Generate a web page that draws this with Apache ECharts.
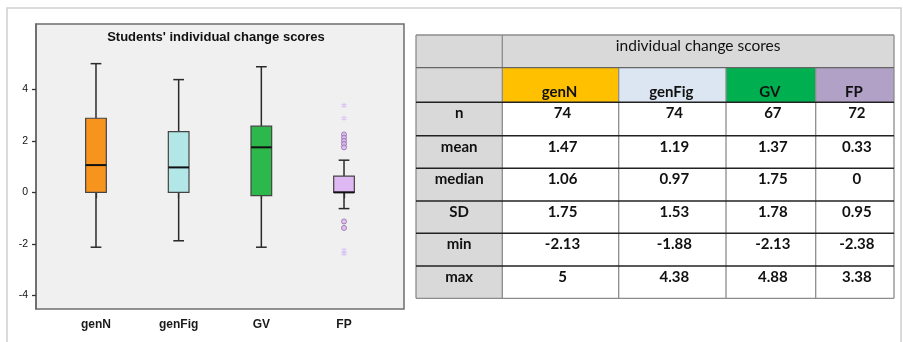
<!DOCTYPE html>
<html>
<head>
<meta charset="utf-8">
<script src="https://cdn.jsdelivr.net/npm/echarts@6/dist/echarts.min.js"></script>
<style>
  html, body { margin: 0; padding: 0; background: #ffffff; }
  #chart { width: 903px; height: 342px; }
</style>
</head>
<body>
<div id="chart"></div>
<script>
// ---- box plot data ----
const categories  = ['genN', 'genFig', 'GV', 'FP'];
const whiskerLow  = [-2.13, -1.88, -2.13, -0.63];
const quartile1   = [0, 0, -0.13, 0];
const medians     = [1.06, 0.97, 1.75, 0];
const quartile3   = [2.88, 2.36, 2.57, 0.63];
const whiskerHigh = [5, 4.38, 4.88, 1.25];
const boxColors   = ['#F7941E', '#B3E6E6', '#2DB84B', '#DDB8F2'];
// [category index, value]
const outliers = [[3, 2.25], [3, 2.13], [3, 2.0], [3, 1.88], [3, 1.75], [3, -1.13], [3, -1.38]];
const extremes = [[3, 3.38], [3, 2.88], [3, -2.25], [3, -2.38]];
const yTicks = [-4, -2, 0, 2, 4];
const plotTitle = "Students' individual change scores";

// ---- summary table data ----
const tableTitle = 'individual change scores';
const statNames  = ['n', 'mean', 'median', 'SD', 'min', 'max'];
const statN      = [74, 74, 67, 72];
const statMean   = [1.47, 1.19, 1.37, 0.33];
const statMedian = [1.06, 0.97, 1.75, 0];
const statSD     = [1.75, 1.53, 1.78, 0.95];
const statMin    = [-2.13, -1.88, -2.13, -2.38];
const statMax    = [5, 4.38, 4.88, 3.38];
const headerColors = ['#FFC000', '#DCE6F2', '#00B050', '#B2A1C7'];

const statRows = [statN, statMean, statMedian, statSD, statMin, statMax];

const Y_MIN = -4.53, Y_MAX = 6.54;

// ---- table layout ----
const colX = [416, 502.3, 618.7, 726, 815.7, 894];
const rowY = [35, 67.7, 102.3, 135.7, 168.3, 201, 233.3, 266, 298.3];
const tableGraphics = [];
const GRAY = '#D9D9D9';
const tfont = '"Lato", "Open Sans", sans-serif';

function cell(x0, y0, x1, y1, fill) {
  tableGraphics.push({ type: 'rect', z: 1, shape: { x: x0, y: y0, width: x1 - x0, height: y1 - y0 }, style: { fill: fill } });
}
function txt(x, y, s, bold, size) {
  tableGraphics.push({ type: 'text', z: 5, style: { x: x, y: y, text: String(s), fill: '#111',
    font: (bold ? 'bold ' : '') + (size || 15) + 'px ' + tfont, align: 'center', verticalAlign: 'middle' } });
}
function hline(y, x0, x1, color, w) {
  tableGraphics.push({ type: 'line', z: 4, shape: { x1: x0, y1: y, x2: x1, y2: y }, style: { stroke: color, lineWidth: w } });
}
function vline(x, y0, y1, color, w) {
  tableGraphics.push({ type: 'line', z: 3, shape: { x1: x, y1: y0, x2: x, y2: y1 }, style: { stroke: color, lineWidth: w } });
}

// backgrounds
cell(colX[0], rowY[0], colX[1], rowY[rowY.length - 1], GRAY);
cell(colX[1], rowY[0], colX[5], rowY[1], GRAY);
for (let c = 0; c < 4; c++) {
  cell(colX[c + 1], rowY[1], colX[c + 2], rowY[2], headerColors[c]);
  cell(colX[c + 1], rowY[2], colX[c + 2], rowY[rowY.length - 1], '#FFFFFF');
}
// grid lines
for (let r = 0; r < rowY.length; r++) {
  const dark = r >= 2 && r < rowY.length - 1;
  hline(rowY[r], colX[0], colX[5], dark ? '#222' : (r === 1 ? '#666' : '#8c8c8c'), dark ? 1.6 : 1.3);
}
vline(colX[0], rowY[0], rowY[rowY.length - 1], '#8c8c8c', 1.3);
vline(colX[1], rowY[0], rowY[rowY.length - 1], '#8c8c8c', 1.3);
for (let c = 2; c < 5; c++) vline(colX[c], rowY[1], rowY[rowY.length - 1], '#8c8c8c', 1.3);
vline(colX[5], rowY[0], rowY[rowY.length - 1], '#8c8c8c', 1.3);
// texts
txt((colX[1] + colX[5]) / 2, rowY[0] + 11, tableTitle, false, 15.5);
for (let c = 0; c < 4; c++) {
  txt((colX[c + 1] + colX[c + 2]) / 2 - 1, rowY[2] - 10.5, categories[c], true);
}
for (let r = 0; r < statNames.length; r++) {
  const top = rowY[r + 2];
  txt((colX[0] + colX[1]) / 2, top + 11, statNames[r], true);
  for (let c = 0; c < 4; c++) {
    txt((colX[c + 1] + colX[c + 2]) / 2 + 2, top + 11, statRows[r][c], true);
  }
}

const chart = echarts.init(document.getElementById('chart'), null, { renderer: 'canvas' });

const boxData = categories.map((c, i) => [i, whiskerLow[i], quartile1[i], medians[i], quartile3[i], whiskerHigh[i]]);

const option = {
  backgroundColor: '#ffffff',
  animation: false,
  graphic: [
    { type: 'rect', z: 0, shape: { x: 7, y: 8, width: 894, height: 345 },
      style: { fill: 'none', stroke: '#cfcfcf', lineWidth: 1.5 } },
    { type: 'text', z: 10, style: { x: 216, y: 37, text: plotTitle, fill: '#111',
      font: 'bold 13px "Liberation Sans", Arial, sans-serif', align: 'center', verticalAlign: 'middle' } }
  ].concat(tableGraphics),
  grid: [
    { left: 36, top: 24, width: 368, height: 285, show: true, backgroundColor: '#F0F0F0',
      borderColor: '#6e6e6e', borderWidth: 1.5, outerBoundsMode: 'none', containLabel: false },
    { left: 54.65, top: 24, width: 330.7, height: 285, outerBoundsMode: 'none', containLabel: false }
  ],
  xAxis: [
    { gridIndex: 0, type: 'value', min: 0, max: 1, show: false },
    { gridIndex: 1, type: 'category', data: categories,
      axisLine: { show: false },
      axisTick: { show: true, alignWithLabel: true, length: 6, lineStyle: { color: '#444', width: 1.3 } },
      axisLabel: { margin: 10, color: '#1a1a1a', fontSize: 12, fontWeight: 'bold',
        fontFamily: '"Liberation Sans", Arial, sans-serif' },
      splitLine: { show: false } }
  ],
  yAxis: [
    { gridIndex: 0, type: 'value', min: Y_MIN, max: Y_MAX,
      axisLine: { show: true, lineStyle: { color: '#666', width: 1.5 } },
      axisTick: { show: true, length: 4, customValues: yTicks, lineStyle: { color: '#333', width: 1.3 } },
      axisLabel: { customValues: yTicks, margin: 8, color: '#111', fontSize: 10.5,
        fontFamily: '"Liberation Sans", Arial, sans-serif' },
      splitLine: { show: false } },
    { gridIndex: 1, type: 'value', min: Y_MIN, max: Y_MAX, show: false, splitLine: { show: false } }
  ],
  series: [
    {
      type: 'custom', xAxisIndex: 1, yAxisIndex: 1, z: 3,
      data: boxData,
      encode: { x: 0, y: [1, 2, 3, 4, 5] },
      renderItem: function (params, api) {
        const i = api.value(0);
        const band = api.size([1, 0])[0];
        const bw = band * 0.25, cap = band * 0.13;
        const cx = api.coord([i, 0])[0];
        const py = v => api.coord([i, v])[1];
        const lo = py(api.value(1)), q1 = py(api.value(2)), md = py(api.value(3)),
              q3 = py(api.value(4)), hi = py(api.value(5));
        const ws = { stroke: '#2a2a2a', lineWidth: 1.5 };
        return {
          type: 'group',
          children: [
            { type: 'line', shape: { x1: cx, y1: hi, x2: cx, y2: q3 }, style: ws },
            { type: 'line', shape: { x1: cx, y1: q1, x2: cx, y2: lo }, style: ws },
            { type: 'line', shape: { x1: cx - cap / 2, y1: hi, x2: cx + cap / 2, y2: hi }, style: ws },
            { type: 'line', shape: { x1: cx - cap / 2, y1: lo, x2: cx + cap / 2, y2: lo }, style: ws },
            { type: 'rect', shape: { x: cx - bw / 2, y: q3, width: bw, height: q1 - q3 },
              style: { fill: boxColors[i], stroke: '#444', lineWidth: 1.2 } },
            { type: 'line', shape: { x1: cx - bw / 2, y1: md, x2: cx + bw / 2, y2: md },
              style: { stroke: '#111', lineWidth: 2 } }
          ]
        };
      }
    },
    {
      type: 'scatter', xAxisIndex: 1, yAxisIndex: 1, z: 4,
      data: outliers, symbol: 'circle', symbolSize: 5,
      itemStyle: { color: '#DDB8F2', borderColor: '#8d6aa3', borderWidth: 1 }
    },
    {
      type: 'scatter', xAxisIndex: 1, yAxisIndex: 1, z: 4,
      data: extremes,
      symbol: 'path://M0,-1L0,1M-0.87,-0.5L0.87,0.5M-0.87,0.5L0.87,-0.5',
      symbolSize: 5,
      itemStyle: { color: 'none', borderColor: '#D6BFF5', borderWidth: 1.2 }
    }
  ]
};

chart.setOption(option);
</script>
</body>
</html>
